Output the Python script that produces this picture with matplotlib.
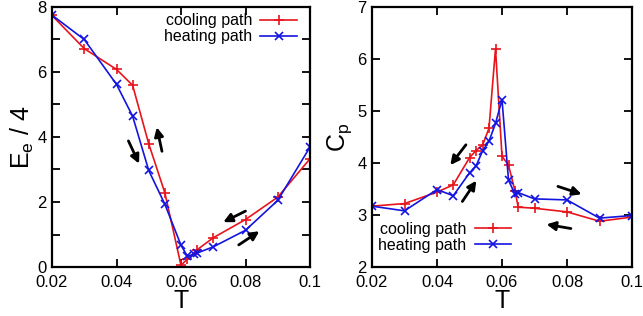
import numpy as np
import matplotlib.pyplot as plt

plt.rcParams['font.family'] = ['Liberation Sans', 'DejaVu Sans']

# E_e / 4 vs T
T_cool_e = [0.02, 0.03, 0.04, 0.045, 0.05, 0.055, 0.06, 0.062, 0.065, 0.07, 0.08, 0.09, 0.1]
E_cool = [7.74, 6.72, 6.08, 5.59, 3.79, 2.28, 0.05, 0.25, 0.53, 0.90, 1.46, 2.15, 3.33]
T_heat_e = [0.02, 0.03, 0.04, 0.045, 0.05, 0.055, 0.06, 0.062, 0.064, 0.065, 0.07, 0.08, 0.09, 0.1]
E_heat = [7.75, 7.0, 5.62, 4.64, 2.97, 1.93, 0.67, 0.33, 0.39, 0.43, 0.62, 1.13, 2.05, 3.69]

# C_p vs T
T_cp = [0.02, 0.03, 0.04, 0.045, 0.05, 0.052, 0.054, 0.056, 0.058, 0.06, 0.062, 0.064, 0.065, 0.07, 0.08, 0.09, 0.1]
Cp_cool = [3.17, 3.22, 3.44, 3.58, 4.10, 4.24, 4.34, 4.67, 6.20, 4.13, 3.96, 3.46, 3.15, 3.13, 3.06, 2.88, 2.96]
Cp_heat = [3.17, 3.08, 3.49, 3.37, 3.81, 3.94, 4.23, 4.42, 4.76, 5.22, 3.67, 3.40, 3.43, 3.31, 3.29, 2.94, 2.99]

xticks = [0.02, 0.04, 0.06, 0.08, 0.1]
xticklabels = ['0.02', '0.04', '0.06', '0.08', '0.1']

# arrows: (start, end) in data coords
arrows_e = [((0.0437, 3.88), (0.0470, 3.18)), ((0.0541, 3.56), (0.0525, 4.30)),
            ((0.0800, 1.72), (0.0731, 1.38)), ((0.0779, 0.68), (0.0843, 1.10))]
arrows_cp = [((0.0489, 4.35), (0.0441, 3.96)), ((0.0478, 3.26), (0.0521, 3.66)),
             ((0.0772, 3.55), (0.0845, 3.40)), ((0.0812, 2.74), (0.0737, 2.82))]

red = '#e8141c'
blue = '#1414e0'

fig = plt.figure(figsize=(6.43, 3.16), dpi=100)
ax1 = fig.add_axes([52/643, 1-267/316, 258/643, 260/316])
ax2 = fig.add_axes([372/643, 1-267/316, 260/643, 260/316])


def style(ax):
    for s in ax.spines.values():
        s.set_linewidth(1.6)
    ax.tick_params(which='both', direction='in', top=True, right=True,
                   length=6, width=1.3, labelsize=12, pad=4)
    ax.tick_params(axis='x', pad=6)
    ax.set_xlim(0.02, 0.1)
    ax.set_xticks(xticks)
    ax.set_xticklabels(xticklabels)
    ax.set_xlabel('T', fontsize=18, labelpad=-1)


def draw_arrows(ax, arrows):
    for (x0, y0), (x1, y1) in arrows:
        ax.annotate('', xy=(x1, y1), xytext=(x0, y0),
                    arrowprops=dict(arrowstyle='-|>', color='black', lw=2.0,
                                    mutation_scale=13, shrinkA=0, shrinkB=0))


ax1.plot(T_cool_e, E_cool, color=red, marker='+', ms=7, mew=1.2, lw=1.2, label='cooling path')
ax1.plot(T_heat_e, E_heat, color=blue, marker='x', ms=6, mew=1.2, lw=1.2, label='heating path')
style(ax1)
ax1.set_ylim(0, 8)
ax1.set_yticks([0, 2, 4, 6, 8])
ax1.set_yticks([1, 3, 5, 7], minor=True)
ax1.set_ylabel(r'E$_\mathregular{e}$ / 4', fontsize=18, labelpad=1)
draw_arrows(ax1, arrows_e)
ax1.legend(loc='upper right', frameon=False, fontsize=11.5, markerfirst=False,
           handlelength=2.3, handletextpad=0.5, labelspacing=0.05,
           borderaxespad=0, bbox_to_anchor=(0.975, 1.0))

ax2.plot(T_cp, Cp_cool, color=red, marker='+', ms=7, mew=1.2, lw=1.2, label='cooling path')
ax2.plot(T_cp, Cp_heat, color=blue, marker='x', ms=6, mew=1.2, lw=1.2, label='heating path')
style(ax2)
ax2.set_ylim(2, 7)
ax2.set_yticks([2, 3, 4, 5, 6, 7])
ax2.set_ylabel(r'C$_\mathregular{p}$', fontsize=18, labelpad=2)
draw_arrows(ax2, arrows_cp)
ax2.legend(loc='lower left', frameon=False, fontsize=11.5, markerfirst=False,
           handlelength=2.3, handletextpad=0.5, labelspacing=0.05,
           borderaxespad=0, bbox_to_anchor=(0.0, 0.03))

fig.savefig('out.png', dpi=100)
